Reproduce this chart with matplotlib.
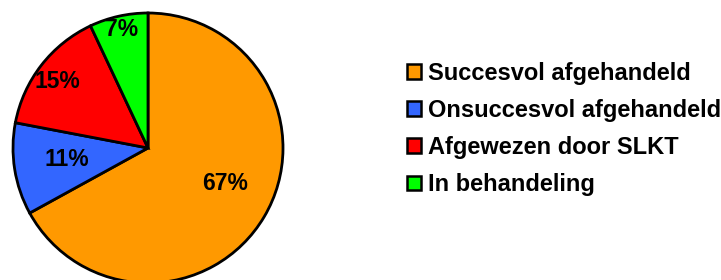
import numpy as np
import matplotlib.pyplot as plt
from matplotlib.patches import Patch

# status of the cases, as share of total
labels = ['Succesvol afgehandeld', 'Onsuccesvol afgehandeld',
          'Afgewezen door SLKT', 'In behandeling']
values = [67, 11, 15, 7]
colors = ['#FF9900', '#3366FF', '#FF0000', '#00FF00']

plt.rcParams['font.family'] = ['Liberation Sans', 'DejaVu Sans']
plt.rcParams['font.weight'] = 'bold'

fig = plt.figure(figsize=(7.21, 2.80), dpi=100)
r_px = 135
cx, cy = 148, 280 - 148
ax = fig.add_axes([(cx - r_px) / 721, (cy - r_px) / 280, 2 * r_px / 721, 2 * r_px / 280])

wedges, texts, autotexts = ax.pie(values, colors=colors, startangle=90, counterclock=False,
                                  autopct='%d%%',
                                  wedgeprops=dict(edgecolor='black', linewidth=2),
                                  textprops=dict(fontsize=16.5, fontweight='bold', color='black'))

# label placement (angle in degrees, distance as fraction of radius)
label_angle = [-24.4, -171.7, 143.7, 102.7]
label_dist = [0.63, 0.61, 0.83, 0.90]
for t, a, d in zip(autotexts, label_angle, label_dist):
    t.set_position((d * np.cos(np.radians(a)), d * np.sin(np.radians(a))))

ax.set_xlim(-1, 1)
ax.set_ylim(-1, 1)
ax.set_aspect('equal')
ax.axis('off')

handles = [Patch(facecolor=c, edgecolor='black', linewidth=1.8) for c in colors]
fig.legend(handles, labels, loc='center left', bbox_to_anchor=(407 / 721, 1 - 129 / 280),
           frameon=False, fontsize=17, handlelength=0.58, handleheight=0.58,
           handletextpad=0.3, labelspacing=0.6, borderpad=0, borderaxespad=0)

fig.savefig('out.png', dpi=100)
